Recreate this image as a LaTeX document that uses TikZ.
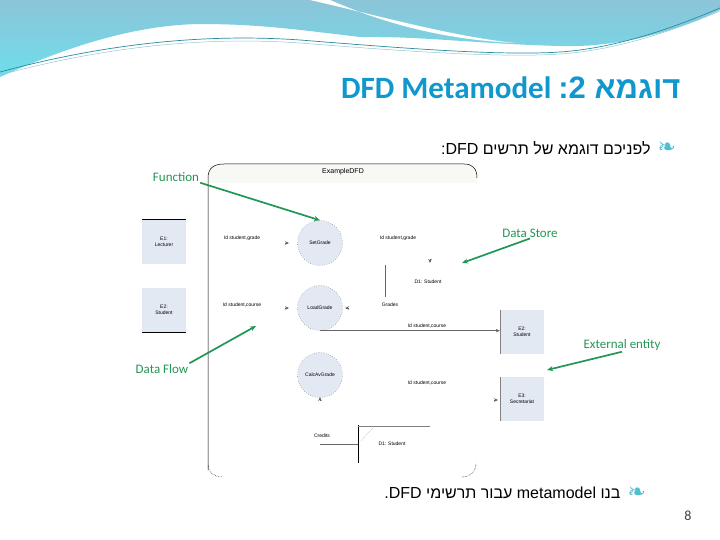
\documentclass[tikz,border=0pt]{standalone}
\usepackage{fontspec}
\setmainfont{Liberation Sans}
\newfontfamily\hebfont[Script=Hebrew]{Liberation Sans}
\newfontfamily\calfont{Carlito}
\newfontfamily\dingfont{DejaVu Sans}
\TeXXeTstate=1
\usepackage{tikz}
\usetikzlibrary{arrows.meta, positioning, calc}
\definecolor{titleblue}{RGB}{16,152,206}
\definecolor{wavetop}{RGB}{140,196,216}
\definecolor{wavebottom}{RGB}{110,222,236}
\definecolor{waveline}{RGB}{40,140,160}
\definecolor{notegreen}{RGB}{34,150,84}
\definecolor{boxfill}{RGB}{227,233,243}
\definecolor{bulletteal}{RGB}{80,190,205}
\definecolor{headerfill}{RGB}{248,248,244}

\begin{document}
\begin{tikzpicture}[x=1pt, y=-1pt,
    >={Stealth[length=4pt, width=3.5pt]},
    entity/.style={fill=boxfill, minimum width=44pt, minimum height=44pt, inner sep=1pt, align=center, font=\fontsize{5}{6}\selectfont},
    process/.style={circle, draw=black!75, dotted, fill=boxfill, minimum size=45pt, inner sep=0pt, font=\fontsize{5}{6}\selectfont},
    flowlabel/.style={font=\fontsize{5}{6}\selectfont, inner sep=1pt},
    flow/.style={->, draw=gray!80!black, line width=0.5pt},
    note/.style={font=\calfont\fontsize{13}{15}\selectfont, text=notegreen, inner sep=1pt},
    notearrow/.style={-{Stealth[length=6pt, width=5pt]}, notegreen, line width=1.7pt},
]
    \useasboundingbox (0,0) rectangle (720,540);

    % top wave
    \shade[top color=wavetop, bottom color=wavebottom] (0,0) -- (720,0) -- (720,10)
        .. controls (680,30) and (620,48) .. (560,46)
        .. controls (480,44) and (420,36) .. (360,37)
        .. controls (300,30) and (260,24) .. (200,24)
        .. controls (130,25) and (60,50) .. (0,77) -- cycle;
    \fill[white] (310,0) .. controls (380,16) and (450,36) .. (515,43)
        .. controls (450,40) and (390,26) .. (330,0) -- cycle;
    \draw[waveline, line width=0.7pt] (0,72) .. controls (100,45) and (200,33) .. (300,40)
        .. controls (400,48) and (500,56) .. (560,52) .. controls (620,48) and (680,25) .. (720,8);
    \draw[waveline!50, line width=0.5pt] (0,75) .. controls (100,48) and (200,36) .. (300,43)
        .. controls (400,51) and (500,58) .. (560,54) .. controls (620,50) and (680,28) .. (720,11);

    \node[anchor=east, text=titleblue, font=\fontsize{31}{36}\selectfont\bfseries] (title) at (684,88)
        {\hebfont\beginR דוגמא 2:\kern7pt\beginL\calfont DFD Metamodel\endL\endR};

    \node[anchor=east, font=\fontsize{16}{19}\selectfont] (intro) at (654,148)
        {\hebfont\beginR לפניכם דוגמא של תרשים \beginL DFD\endL:\endR};
    \node[right=0pt of intro, text=bulletteal, font=\dingfont\fontsize{22}{24}\selectfont] (introbullet) {❧};

    % example frame
    \fill[headerfill] (208,183) -- (208,178) .. controls (208,168) and (214,164) .. (224,164)
        -- (464,164) .. controls (472,164) and (477,168) .. (477,178) -- (477,183) -- cycle;
    \draw[line width=0.5pt] (208,470) -- (208,178) .. controls (208,168) and (214,164) .. (224,164)
        -- (464,164) .. controls (472,164) and (477,168) .. (477,178);
    \draw[line width=0.5pt, densely dotted] (208,465) .. controls (208,472) and (214,477) .. (222,477);
    \draw[line width=0.5pt, densely dotted] (462,477) .. controls (470,477) and (476,472) .. (476,463);
    \node[font=\fontsize{7}{8}\selectfont] (frametitle) at (343,172) {ExampleDFD};

    \node[entity] (lecturer) at (164,242) {E1:\\Lecturer};
    \draw[line width=0.8pt] (lecturer.north west) -- (lecturer.north east);
    \node[entity] (studentin) at (164,310) {E2:\\Student};
    \draw[line width=0.8pt] (studentin.south west) -- (studentin.south east);

    \node[process] (setgrade) at (320,243) {SetGrade};
    \node[process] (loadgrade) at (320,308) {LoadGrade};
    \node[process] (calcgrade) at (320,375) {CalcAvGrade};

    \node[entity] (studentout) at (522,332) {E2:\\Student};
    \draw[gray] (studentout.north west) -- (studentout.south west);
    \node[entity] (secretariat) at (522,399) {E3:\\Secretariat};
    \draw[gray] (secretariat.north west) -- (secretariat.south west);

    \node[flowlabel] (gradein) at (242,238) {Id student,grade};
    \node[flowlabel] (coursein) at (242,305) {Id student,course};
    \node[flowlabel] (gradeout) at (398,238) {Id student,grade};
    \node[flowlabel] (grades) at (390,305) {Grades};
    \node[flowlabel] (courseout) at (427,383) {Id student,course};
    \node[flowlabel] (credits) at (322,436) {Credits};

    % data stores
    \node[flowlabel] (storetop) at (428,282) {D1: Student};
    \draw[gray!80!black, line width=0.5pt] (385,265) -- (385,297);
    \draw[flow] (430,259) -- (430,263);
    \node[flowlabel] (storebottom) at (392,444) {D1: Student};
    \draw[line width=0.6pt] (358,425) -- (358,463);
    \draw[gray, line width=0.5pt] (358,426) -- (430,426);
    \draw[gray!80!black, line width=0.5pt] (320,444) -- (358,444);
    \draw[gray, densely dotted, line width=0.4pt] (361,441) -- (373,428);

    % flows
    \draw[flow] (285,243) -- (289,243);
    \draw[flow] (285,308) -- (289,308);
    \draw[flow] (349,308) -- (345,308);
    \draw[flow] (320,401) -- (320,397);
    \draw[flow] (494,400) -- (498,400);
    \draw[flow] (loadgrade.south) -- (loadgrade.south -| studentout.west);
    \node[flowlabel, above=1pt of courseout |- loadgrade.south] (coursemid) {Id student,course};

    % annotations
    \node[note] (fnote) at (176,177) {Function};
    \draw[notearrow] (fnote.south east) -- (setgrade.north);
    \node[note] (dsnote) at (530,233) {Data Store};
    \coordinate (storemark) at (462,263);
    \draw[notearrow] (dsnote.south) -- (storemark);
    \node[note] (eenote) at (622,345) {External entity};
    \coordinate (entitymark) at (547,370);
    \draw[notearrow] (eenote.south) -- (entitymark);
    \node[note] (dfnote) at (162,369) {Data Flow};
    \coordinate (flowmark) at (256,326);
    \draw[notearrow] (dfnote.north east) -- (flowmark);

    \node[anchor=east, font=\fontsize{16}{19}\selectfont] (task) at (624,493)
        {\hebfont\beginR בנו \beginL metamodel\endL{} עבור תרשימי \beginL DFD\endL.\endR};
    \node[right=0pt of task, text=bulletteal, font=\dingfont\fontsize{22}{24}\selectfont] (taskbullet) {❧};

    \node[font=\calfont\fontsize{14}{16}\selectfont, text=black!75] (pagenum) at (688,516) {8};
\end{tikzpicture}
\end{document}
